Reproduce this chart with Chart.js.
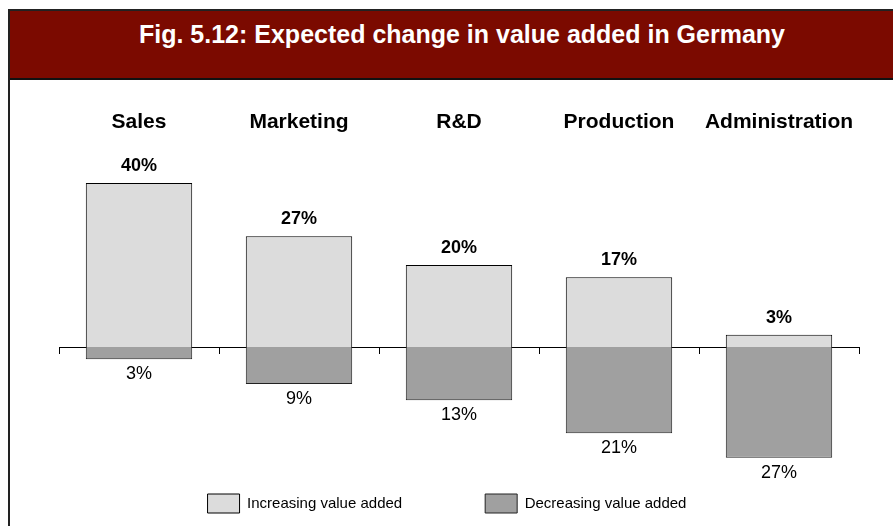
<!DOCTYPE html>
<html>
<head>
<meta charset="utf-8">
<script src="https://cdn.jsdelivr.net/npm/chart.js@4/dist/chart.umd.min.js"></script>
<style>
  body { margin: 0; width: 893px; height: 526px; overflow: hidden; background: #fff; }
  .frame { position: absolute; left: 8px; top: 9px; width: 900px; height: 600px;
           border-left: 2px solid #222; border-top: 2px solid #222; }
  .band { position: relative; height: 67px; background: #7b0a00; border-bottom: 2px solid #111; }
  .band h1 { position: absolute; left: -7px; top: 11px; width: 918px; margin: 0; text-align: center;
             color: #fff; font: bold 25px/25px "Liberation Sans", Arial, sans-serif; }
  #wrap { position: absolute; left: 0; top: 0; width: 893px; height: 526px; }
</style>
</head>
<body>
<div class="frame"><div class="band"><h1>Fig. 5.12: Expected change in value added in Germany</h1></div></div>
<div id="wrap"><canvas id="chart"></canvas></div>
<script>
const categories = ['Sales', 'Marketing', 'R&D', 'Production', 'Administration'];
const increasing = [40, 27, 20, 17, 3];
const decreasing = [-3, -9, -13, -21, -27];
const seriesNames = ['Increasing value added', 'Decreasing value added'];

const FONT = '"Liberation Sans", Arial, sans-serif';

// percent labels: bold above the light bars, plain below the dark ones
const valueLabels = {
    id: 'valueLabels',
    afterDatasetsDraw(chart) {
        const ctx = chart.ctx;
        ctx.save();
        ctx.fillStyle = '#000';
        ctx.textAlign = 'center';
        ctx.textBaseline = 'middle';
        chart.data.datasets.forEach((ds, i) => {
            chart.getDatasetMeta(i).data.forEach((bar, j) => {
                const v = ds.data[j];
                if (v >= 0) {
                    ctx.font = 'bold 18px ' + FONT;
                    ctx.fillText(v + '%', bar.x, bar.y - 17);
                } else {
                    ctx.font = '18px ' + FONT;
                    ctx.fillText(-v + '%', bar.x, bar.y + 15);
                }
            });
        });
        ctx.restore();
    }
};

new Chart(document.getElementById('chart'), {
    type: 'bar',
    data: {
        labels: categories,
        datasets: [
            { label: seriesNames[0], data: increasing, backgroundColor: '#dcdcdc', borderColor: '#000', borderWidth: 1, clip: false },
            { label: seriesNames[1], data: decreasing, backgroundColor: '#a0a0a0', borderColor: '#222', borderWidth: 1, clip: false }
        ]
    },
    options: {
        responsive: true,
        maintainAspectRatio: false,
        animation: false,
        categoryPercentage: 1,
        barPercentage: 0.665,
        layout: { padding: { left: 35, right: 34, top: 82.9, bottom: 3 } },
        plugins: {
            legend: {
                position: 'bottom',
                labels: { color: '#000', font: { family: FONT, size: 15 }, boxWidth: 32, boxHeight: 19, padding: 83 }
            },
            tooltip: { enabled: false }
        },
        scales: {
            x: {
                position: 'top',
                stacked: true,
                grid: { display: false, drawTicks: false },
                border: { display: false },
                ticks: { color: '#000', font: { family: FONT, size: 21, weight: 'bold' }, padding: 27.2, maxRotation: 0 }
            },
            // zero line with tick marks between the categories
            x2: {
                type: 'category',
                labels: categories,
                offset: true,
                position: { y: 0 },
                z: 1,
                grid: { offset: true, drawOnChartArea: false, tickLength: 6, color: '#000' },
                border: { color: '#000' },
                ticks: { display: false }
            },
            y: {
                stacked: true,
                min: -15.6,
                max: 45,
                afterFit: (s) => { s.width = 24; },
                grid: { display: false },
                border: { display: false },
                ticks: { display: false }
            }
        }
    },
    plugins: [valueLabels]
});
</script>
</body>
</html>
